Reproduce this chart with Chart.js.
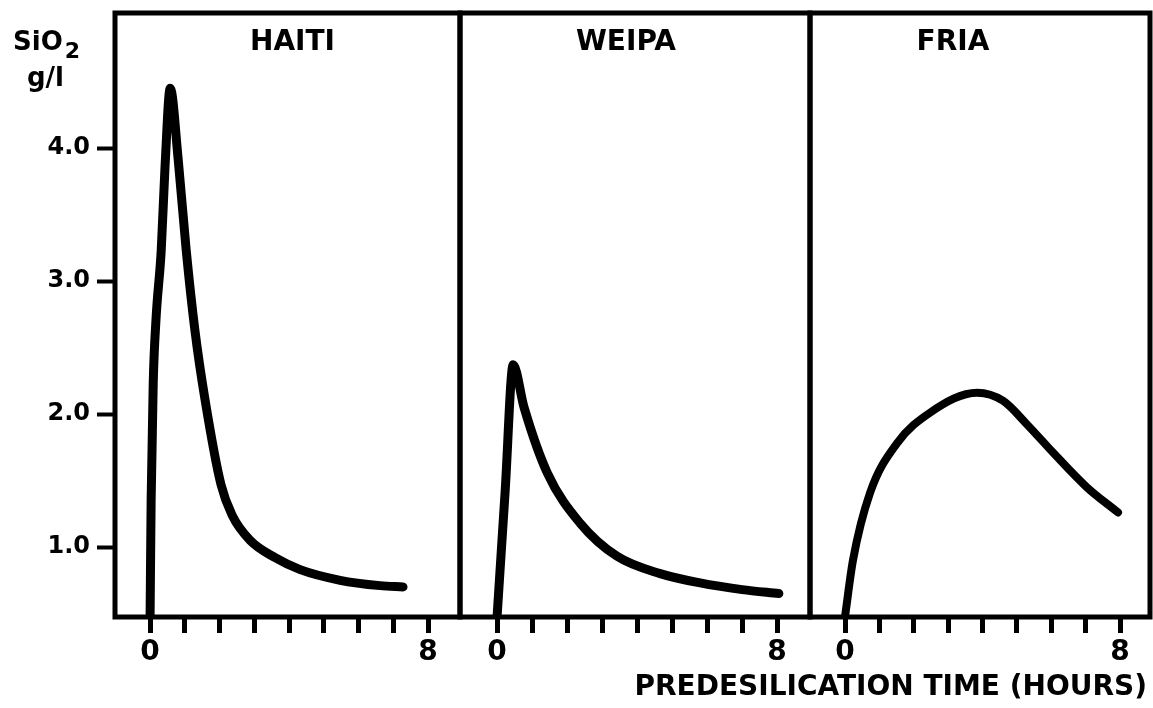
<!DOCTYPE html>
<html>
<head>
<meta charset="utf-8">
<script src="https://cdn.jsdelivr.net/npm/chart.js@4.4.1/dist/chart.umd.min.js"></script>
<style>
  html, body { margin: 0; padding: 0; background: #fff; }
  #wrap { position: relative; width: 1153px; height: 708px; }
  #wrap canvas { position: absolute; left: 0; top: 0; }
</style>
</head>
<body>
<div id="wrap">
  <canvas id="c0" width="1153" height="708"></canvas>
  <canvas id="c1" width="1153" height="708"></canvas>
  <canvas id="c2" width="1153" height="708"></canvas>
</div>
<script>
// data
const panelNames = ['HAITI', 'WEIPA', 'FRIA'];

const haitiHours  = [0, 0.03, 0.09, 0.17, 0.32, 0.43, 0.58, 0.81, 1.04, 1.29, 1.58, 2.04, 2.36, 2.88, 3.6, 4.32, 5.47, 6.62, 7.28];
const haitiSilica = [0.48, 1.35, 2.23, 2.71, 3.23, 3.86, 4.45, 3.91, 3.23, 2.63, 2.11, 1.47, 1.24, 1.05, 0.92, 0.83, 0.75, 0.71, 0.7];

const weipaHours  = [0, 0.23, 0.46, 0.77, 1.43, 2.37, 3.43, 4.66, 5.8, 7.0, 8.05];
const weipaSilica = [0.48, 1.42, 2.37, 2.05, 1.56, 1.18, 0.93, 0.8, 0.73, 0.68, 0.65];

const friaHours  = [0, 0.23, 0.73, 1.51, 2.47, 3.84, 4.59, 5.3, 6.05, 7.03, 7.94];
const friaSilica = [0.48, 0.9, 1.41, 1.78, 2.01, 2.16, 2.1, 1.92, 1.71, 1.45, 1.26];

const xTicks = [0, 1, 2, 3, 4, 5, 6, 7, 8];
const xTickLabels = [0, 8];
const yTicks = [1, 2, 3, 4];
const xTitle = 'PREDESILICATION TIME (HOURS)';

const seriesHours = [haitiHours, weipaHours, friaHours];
const seriesSilica = [haitiSilica, weipaSilica, friaSilica];

// layout
const FONT = '"DejaVu Sans", sans-serif';
const W = 1153, H = 708;
const plotTop = 13, plotBottom = 617;
const panelEdges = [[115, 460], [460, 810], [810, 1150]];
const hourRange = [[-1.01, 8.92], [-1.06, 8.94], [-1.02, 8.87]];
const silicaRange = [0.474, 5.015];
const titleShift = [5, -9, -27];
const lineWidths = [9, 9, 8];

const panelFrame = {
  id: 'panelFrame',
  afterDraw(chart, args, opts) {
    const { ctx, chartArea: a } = chart;
    ctx.save();
    ctx.strokeStyle = '#000';
    ctx.lineWidth = 5;
    ctx.strokeRect(a.left, a.top, a.right - a.left, a.bottom - a.top);
    ctx.fillStyle = '#000';
    ctx.font = `bold 28px ${FONT}`;
    ctx.textAlign = 'center';
    ctx.textBaseline = 'middle';
    ctx.fillText(opts.name, (a.left + a.right) / 2 + opts.shift, 43);
    ctx.restore();
  }
};

const unitLabel = {
  id: 'unitLabel',
  afterDraw(chart) {
    const { ctx } = chart;
    ctx.save();
    ctx.fillStyle = '#000';
    ctx.textAlign = 'left';
    ctx.textBaseline = 'alphabetic';
    ctx.font = `bold 26px ${FONT}`;
    ctx.fillText('SiO', 13, 50);
    const w = ctx.measureText('SiO').width;
    ctx.font = `bold 22px ${FONT}`;
    ctx.fillText('2', 13 + w + 2, 58);
    ctx.font = `bold 26px ${FONT}`;
    ctx.fillText('g/l', 27, 86);
    ctx.restore();
  }
};

// axis title spans more than one panel, so it is drawn on the last canvas
const timeTitle = {
  id: 'timeTitle',
  afterDraw(chart) {
    const { ctx, chartArea: a } = chart;
    ctx.save();
    ctx.fillStyle = '#000';
    ctx.font = `bold 28px ${FONT}`;
    ctx.textAlign = 'right';
    ctx.textBaseline = 'middle';
    ctx.fillText(xTitle, a.right - 3, 688);
    ctx.restore();
  }
};

panelNames.forEach((name, i) => {
  const data = {
    datasets: [{
      label: name,
      data: seriesHours[i].map((h, k) => ({ x: h, y: seriesSilica[i][k] })),
      borderColor: '#000',
      borderWidth: lineWidths[i],
      borderCapStyle: 'round',
      borderJoinStyle: 'round',
      cubicInterpolationMode: 'monotone',
      pointRadius: 0,
      fill: false
    }]
  };

  const config = {
    type: 'line',
    data,
    options: {
      responsive: false,
      animation: false,
      devicePixelRatio: 1,
      layout: {
        padding: {
          left: i === 0 ? 0 : panelEdges[i][0],
          right: W - panelEdges[i][1],
          top: plotTop,
          bottom: 0
        }
      },
      plugins: {
        legend: { display: false },
        tooltip: { enabled: false },
        panelFrame: { name, shift: titleShift[i] }
      },
      scales: {
        x: {
          type: 'linear',
          min: hourRange[i][0],
          max: hourRange[i][1],
          afterBuildTicks: (s) => { s.ticks = xTicks.map(v => ({ value: v })); },
          afterFit: (s) => { s.height = H - plotBottom; s.paddingLeft = 0; s.paddingRight = 0; },
          ticks: {
            autoSkip: false,
            maxRotation: 0,
            padding: 3,
            color: '#000',
            font: { family: FONT, size: 28, weight: 'bold' },
            callback: (v) => xTickLabels.includes(v) ? String(v) : ''
          },
          grid: { drawOnChartArea: false, tickLength: 16, tickWidth: 5, tickColor: '#000' },
          border: { display: false }
        },
        y: {
          type: 'linear',
          display: i === 0,
          min: silicaRange[0],
          max: silicaRange[1],
          afterBuildTicks: (s) => { s.ticks = yTicks.map(v => ({ value: v })); },
          afterFit: (s) => {
            if (i !== 0) return;
            s.width = panelEdges[0][0];
            s.paddingTop = 0;
            s.paddingBottom = 0;
          },
          ticks: {
            padding: 7,
            color: '#000',
            font: { family: FONT, size: 24, weight: 'bold' },
            callback: (v) => v.toFixed(1)
          },
          grid: { drawOnChartArea: false, tickLength: 18, tickWidth: 4, tickColor: '#000' },
          border: { display: false }
        }
      }
    },
    plugins: i === 0 ? [panelFrame, unitLabel] : (i === 2 ? [panelFrame, timeTitle] : [panelFrame])
  };

  new Chart(document.getElementById('c' + i), config);
});
</script>
</body>
</html>
